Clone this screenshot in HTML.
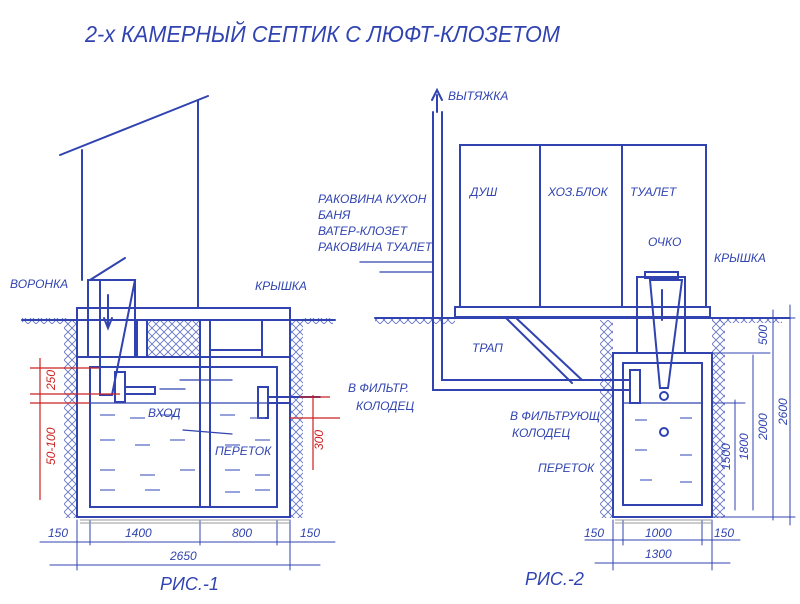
<!DOCTYPE html>
<html><head><meta charset="utf-8"><style>
html,body{margin:0;padding:0;background:#fff}
svg{display:block}
text{font-family:"Liberation Sans",sans-serif;fill:#3043b0;font-style:italic}
</style></head><body>
<svg width="800" height="604" viewBox="0 0 800 604" xmlns="http://www.w3.org/2000/svg">
<defs>
<pattern id="h" width="8" height="8" patternUnits="userSpaceOnUse">
<path d="M0 0 L8 8 M8 0 L0 8" stroke="#6070c8" stroke-width="0.8"/>
</pattern>
</defs>
<g fill="url(#h)">
<rect x="22" y="318" width="46" height="6"/>
<rect x="64" y="320" width="13" height="198"/>
<rect x="290" y="320" width="13" height="198"/>
<rect x="303" y="318" width="30" height="6"/>
<rect x="147" y="320" width="53" height="37"/>
<rect x="375" y="318" width="80" height="6"/>
<rect x="600" y="320" width="13" height="198"/>
<rect x="712" y="320" width="13" height="198"/>
<rect x="712" y="317" width="70" height="6"/>
</g>
<g stroke="#3043b0" stroke-width="2" fill="none" stroke-linecap="round">
<line x1="60" y1="155" x2="208" y2="96"/>
<line x1="82" y1="150" x2="82" y2="280"/>
<line x1="198" y1="100" x2="198" y2="308"/>
<line x1="22" y1="320" x2="335" y2="320"/>
<rect x="77" y="357" width="213" height="160"/>
<rect x="90" y="367" width="187" height="140"/>
<line x1="77" y1="308" x2="77" y2="357"/>
<line x1="290" y1="308" x2="290" y2="357"/>
<rect x="77" y="308" width="213" height="12"/>
<line x1="200" y1="357" x2="200" y2="507"/>
<line x1="210" y1="357" x2="210" y2="507"/>
<line x1="200" y1="320" x2="200" y2="357"/>
<line x1="210" y1="320" x2="210" y2="357"/>
<line x1="262" y1="320" x2="262" y2="357"/>
<line x1="210" y1="350" x2="262" y2="350"/>
<line x1="137" y1="320" x2="137" y2="357"/>
<line x1="147" y1="320" x2="147" y2="357"/>
<rect x="88" y="280" width="47" height="77"/>
<polygon points="100,280 135,280 112,395 100,395"/>
<line x1="90" y1="280" x2="125" y2="258"/>
<line x1="108" y1="295" x2="108" y2="325"/>
<path d="M104 318 L108 328 L112 318"/>
<rect x="115" y="372" width="10" height="30"/>
<rect x="125" y="387" width="30" height="7"/>
<rect x="258" y="387" width="10" height="31"/>
<line x1="268" y1="397" x2="320" y2="397"/>
<line x1="268" y1="403" x2="290" y2="403"/>
<line x1="90" y1="403" x2="277" y2="403" stroke-width="1.2"/>
<line x1="180" y1="380" x2="232" y2="380" stroke-width="1.3"/>
<line x1="183" y1="430" x2="232" y2="434" stroke-width="1.3"/>
<line x1="160" y1="389" x2="185" y2="389" stroke-width="1.3"/>
<line x1="77" y1="520" x2="77" y2="570" stroke-width="1"/>
<line x1="90" y1="520" x2="90" y2="545" stroke-width="1"/>
<line x1="200" y1="520" x2="200" y2="545" stroke-width="1"/>
<line x1="277" y1="520" x2="277" y2="545" stroke-width="1"/>
<line x1="290" y1="520" x2="290" y2="570" stroke-width="1"/>
<line x1="40" y1="542" x2="335" y2="542" stroke-width="1"/>
<line x1="50" y1="565" x2="320" y2="565" stroke-width="1"/>
<rect x="460" y="145" width="246" height="162"/>
<line x1="540" y1="145" x2="540" y2="307"/>
<line x1="622" y1="145" x2="622" y2="307"/>
<line x1="375" y1="318" x2="790" y2="318"/>
<rect x="455" y="307" width="255" height="10"/>
<path d="M433 112 L433 390 L630 390 M442 112 L442 380 L630 380"/>
<line x1="437" y1="112" x2="437" y2="95"/>
<path d="M432 100 L437 90 L442 100"/>
<line x1="360" y1="262" x2="433" y2="262" stroke-width="1.3"/>
<line x1="380" y1="272" x2="433" y2="272" stroke-width="1.3"/>
<line x1="505" y1="317" x2="572" y2="383"/>
<line x1="515" y1="317" x2="582" y2="380"/>
<rect x="613" y="353" width="99" height="164"/>
<rect x="623" y="363" width="79" height="142"/>
<rect x="637" y="277" width="48" height="76"/>
<rect x="645" y="272" width="33" height="6"/>
<polygon points="650,280 682,280 668,388 660,388"/>
<line x1="662" y1="290" x2="662" y2="320"/>
<rect x="630" y="370" width="10" height="33"/>
<line x1="623" y1="403" x2="702" y2="403" stroke-width="1.2"/>
<circle cx="664" cy="396" r="4"/>
<circle cx="664" cy="432" r="4"/>
<line x1="718" y1="318" x2="795" y2="318" stroke-width="1"/>
<line x1="712" y1="353" x2="770" y2="353" stroke-width="1"/>
<line x1="712" y1="403" x2="745" y2="403" stroke-width="1"/>
<line x1="712" y1="517" x2="795" y2="517" stroke-width="1"/>
<line x1="773" y1="310" x2="773" y2="520" stroke-width="1"/>
<line x1="790" y1="305" x2="790" y2="525" stroke-width="1"/>
<line x1="753" y1="355" x2="753" y2="510" stroke-width="1"/>
<line x1="735" y1="400" x2="735" y2="510" stroke-width="1"/>
<line x1="613" y1="520" x2="613" y2="570" stroke-width="1"/>
<line x1="623" y1="520" x2="623" y2="545" stroke-width="1"/>
<line x1="702" y1="520" x2="702" y2="545" stroke-width="1"/>
<line x1="712" y1="520" x2="712" y2="570" stroke-width="1"/>
<line x1="585" y1="540" x2="740" y2="540" stroke-width="1"/>
<line x1="595" y1="563" x2="730" y2="563" stroke-width="1"/>
</g>
<g stroke="#5a6ac4" stroke-width="1.2">
<path d="M100 415h15M130 418h15M160 415h15M220 415h15M250 418h15M100 440h15M135 445h15M170 440h15M225 445h15M255 440h15M100 470h15M140 475h15M180 470h15M225 470h15M255 475h15M100 490h15M145 490h15M225 492h15M255 490h15M635 420h12M680 418h12M635 450h12M680 455h12M640 480h12M680 482h12"/>
</g>
<g stroke="#cc2222" stroke-width="1.2">
<line x1="30" y1="368" x2="100" y2="368"/><line x1="30" y1="394" x2="120" y2="394"/>
<line x1="40" y1="358" x2="40" y2="500"/><line x1="30" y1="403" x2="90" y2="403"/>
<line x1="300" y1="397" x2="330" y2="397"/><line x1="290" y1="418" x2="340" y2="418"/><line x1="313" y1="395" x2="313" y2="470"/>
</g>
<g stroke="#999" stroke-width="1">
<path d="M80 520 L290 520 M80 523 L290 523 M615 520 L712 520 M615 523 L712 523"/>
</g>
<text x="85" y="42" font-size="23" textLength="475" lengthAdjust="spacingAndGlyphs">2-х КАМЕРНЫЙ СЕПТИК С ЛЮФТ-КЛОЗЕТОМ</text>
<g font-size="12">
<text x="10" y="288">ВОРОНКА</text>
<text x="255" y="290">КРЫШКА</text>
<text x="148" y="417">ВХОД</text>
<text x="215" y="455">ПЕРЕТОК</text>
<text x="348" y="392">В ФИЛЬТР.</text>
<text x="356" y="410">КОЛОДЕЦ</text>
<text x="448" y="100">ВЫТЯЖКА</text>
<text x="470" y="196">ДУШ</text>
<text x="548" y="196">ХОЗ.БЛОК</text>
<text x="630" y="196">ТУАЛЕТ</text>
<text x="318" y="203">РАКОВИНА КУХОН</text>
<text x="318" y="219">БАНЯ</text>
<text x="318" y="235">ВАТЕР-КЛОЗЕТ</text>
<text x="318" y="251">РАКОВИНА ТУАЛЕТ</text>
<text x="648" y="246">ОЧКО</text>
<text x="714" y="262">КРЫШКА</text>
<text x="472" y="352">ТРАП</text>
<text x="510" y="420">В ФИЛЬТРУЮЩ</text>
<text x="512" y="437">КОЛОДЕЦ</text>
<text x="538" y="472">ПЕРЕТОК</text>
<text x="48" y="537">150</text><text x="125" y="537">1400</text><text x="232" y="537">800</text><text x="300" y="537">150</text>
<text x="170" y="560">2650</text>
<text x="584" y="537">150</text><text x="645" y="537">1000</text><text x="714" y="537">150</text>
<text x="645" y="558">1300</text>
</g>
<g font-size="12">
<text transform="translate(767,345) rotate(-90)">500</text>
<text transform="translate(767,440) rotate(-90)">2000</text>
<text transform="translate(787,425) rotate(-90)">2600</text>
<text transform="translate(748,460) rotate(-90)">1800</text>
<text transform="translate(730,470) rotate(-90)">1500</text>
</g>
<g font-size="12">
<text transform="translate(55,390) rotate(-90)" style="fill:#cc2222">250</text>
<text transform="translate(55,465) rotate(-90)" style="fill:#cc2222">50-100</text>
<text transform="translate(323,450) rotate(-90)" style="fill:#cc2222">300</text>
</g>
<text x="160" y="590" font-size="18">РИС.-1</text>
<text x="525" y="585" font-size="18">РИС.-2</text>
</svg>
</body></html>
